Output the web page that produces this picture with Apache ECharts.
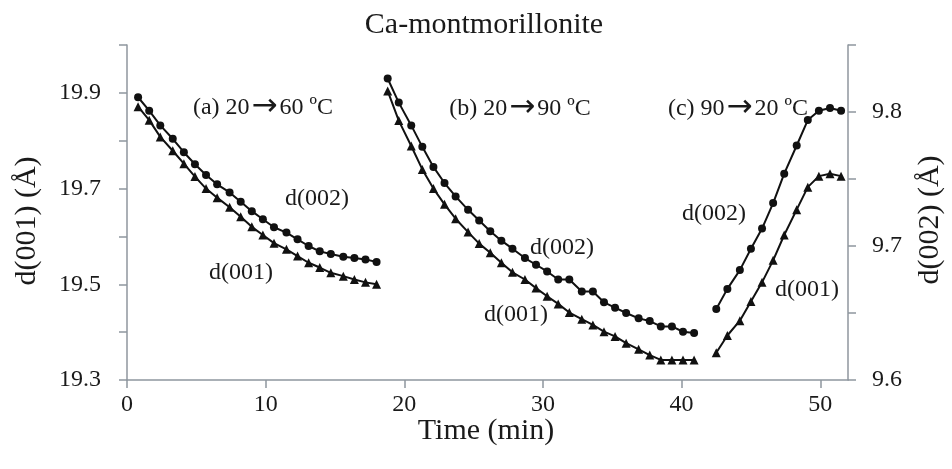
<!DOCTYPE html>
<html>
<head>
<meta charset="utf-8">
<script src="https://cdn.jsdelivr.net/npm/echarts@6/dist/echarts.min.js"></script>
<style>html,body{margin:0;padding:0;background:#fff}#c{width:952px;height:469px}</style>
</head>
<body>
<div id="c"></div>
<script>
// ---- data ----
const timeA = [0.8, 1.6, 2.4, 3.3, 4.1, 4.9, 5.7, 6.5, 7.4, 8.2, 9.0, 9.8, 10.6, 11.5, 12.3, 13.1, 13.9, 14.7, 15.6, 16.4, 17.2, 18.0];
const d001A = [19.871, 19.843, 19.808, 19.779, 19.752, 19.725, 19.700, 19.681, 19.661, 19.641, 19.620, 19.603, 19.586, 19.573, 19.559, 19.545, 19.535, 19.524, 19.517, 19.510, 19.504, 19.500];
const d002A = [9.811, 9.801, 9.790, 9.780, 9.770, 9.761, 9.753, 9.746, 9.740, 9.733, 9.726, 9.720, 9.714, 9.710, 9.705, 9.700, 9.696, 9.694, 9.692, 9.691, 9.690, 9.688];

const timeB = [18.8, 19.6, 20.5, 21.3, 22.1, 22.9, 23.7, 24.6, 25.4, 26.2, 27.0, 27.8, 28.7, 29.5, 30.3, 31.1, 31.9, 32.8, 33.6, 34.4, 35.2, 36.0, 36.9, 37.7, 38.5, 39.3, 40.1, 40.9];
const d001B = [19.904, 19.842, 19.789, 19.740, 19.700, 19.667, 19.637, 19.609, 19.585, 19.566, 19.545, 19.525, 19.510, 19.492, 19.475, 19.459, 19.441, 19.427, 19.415, 19.401, 19.391, 19.377, 19.364, 19.352, 19.342, 19.342, 19.342, 19.342];
const d002B = [9.825, 9.807, 9.790, 9.774, 9.759, 9.747, 9.737, 9.727, 9.719, 9.711, 9.704, 9.698, 9.691, 9.686, 9.681, 9.675, 9.675, 9.666, 9.666, 9.658, 9.654, 9.650, 9.646, 9.644, 9.640, 9.640, 9.636, 9.635];

const timeC = [42.5, 43.3, 44.2, 45.0, 45.8, 46.6, 47.4, 48.3, 49.1, 49.9, 50.7, 51.5];
const d001C = [19.357, 19.393, 19.424, 19.464, 19.504, 19.550, 19.603, 19.656, 19.703, 19.726, 19.731, 19.726];
const d002C = [9.653, 9.668, 9.682, 9.698, 9.713, 9.732, 9.754, 9.775, 9.794, 9.801, 9.803, 9.801];

const xTicks = [0, 10, 20, 30, 40, 50];
const leftTicks = [19.3, 19.4, 19.5, 19.6, 19.7, 19.8, 19.9, 20.0];
const leftLabels = [19.3, 19.5, 19.7, 19.9];
const rightTicks = [9.6, 9.65, 9.7, 9.75, 9.8, 9.85];
const rightLabels = [9.6, 9.7, 9.8];

const titleText = 'Ca-montmorillonite';
const xName = 'Time (min)';
const leftName = 'd(001) (Å)';
const rightName = 'd(002) (Å)';
const segFrom = ['(a) 20', '(b) 20', '(c) 90'];
const segTo = ['60 ºC', '90 ºC', '20 ºC'];

// ---- chart ----
const FONT = '"Liberation Serif", "Times New Roman", serif';
const AX = '#8f969e';
const INK = '#111';
const pair = (t, v) => t.map((x, i) => [x, v[i]]);

function mkSeries(t, v, yIdx, sym, size) {
  return {
    type: 'line', xAxisIndex: 0, yAxisIndex: yIdx, data: pair(t, v),
    symbol: sym, symbolSize: size, showSymbol: true,
    lineStyle: { color: INK, width: 2 }, itemStyle: { color: INK },
    animation: false, silent: true
  };
}
function txt(x, y, s, size, rot) {
  return {
    type: 'text', x: x, y: y, rotation: rot || 0,
    style: { text: s, font: size + 'px ' + FONT, fill: '#1a1a1a', align: 'center', verticalAlign: 'middle' }
  };
}
function segTxt(x, y, i) {
  return {
    type: 'text', x: x, y: y,
    style: {
      text: '{t|' + segFrom[i] + '}{ar|\u2192}{t|' + segTo[i] + '}',
      align: 'center', verticalAlign: 'middle', fill: '#1a1a1a',
      rich: {
        t: { font: '24px ' + FONT, fill: '#1a1a1a' },
        ar: { font: '31px "DejaVu Sans", sans-serif', fill: '#1a1a1a', padding: [0, 2, 2, 2] }
      }
    }
  };
}

const chart = echarts.init(document.getElementById('c'), null, { renderer: 'canvas' });
chart.setOption({
  backgroundColor: '#fff',
  animation: false,
  grid: { left: 127, right: 104, top: 45, bottom: 89, containLabel: false },
  xAxis: {
    type: 'value', min: 0, max: 52,
    axisLine: { show: true, lineStyle: { color: AX, width: 1.5 } },
    axisTick: { show: true, inside: false, length: 8, customValues: xTicks, lineStyle: { color: AX, width: 1.5 } },
    axisLabel: { customValues: xTicks, margin: 13, color: '#1a1a1a', fontFamily: FONT, fontSize: 24 },
    splitLine: { show: false }
  },
  yAxis: [
    {
      type: 'value', min: 19.3, max: 20.0, position: 'left',
      axisLine: { show: true, lineStyle: { color: AX, width: 1.5 } },
      axisTick: { show: true, length: 8, customValues: leftTicks, lineStyle: { color: AX, width: 1.5 } },
      axisLabel: { customValues: leftLabels, margin: 26, color: '#1a1a1a', fontFamily: FONT, fontSize: 24,
                   formatter: v => v.toFixed(1) },
      splitLine: { show: false }
    },
    {
      type: 'value', min: 9.6, max: 9.85, position: 'right',
      axisLine: { show: true, lineStyle: { color: AX, width: 1.5 } },
      axisTick: { show: true, length: 8, customValues: rightTicks, lineStyle: { color: AX, width: 1.5 } },
      axisLabel: { customValues: rightLabels, margin: 24, color: '#1a1a1a', fontFamily: FONT, fontSize: 24,
                   formatter: v => v.toFixed(1) },
      splitLine: { show: false }
    }
  ],
  series: [
    mkSeries(timeA, d001A, 0, 'triangle', 9),
    mkSeries(timeB, d001B, 0, 'triangle', 9),
    mkSeries(timeC, d001C, 0, 'triangle', 9),
    mkSeries(timeA, d002A, 1, 'circle', 8),
    mkSeries(timeB, d002B, 1, 'circle', 8),
    mkSeries(timeC, d002C, 1, 'circle', 8)
  ],
  graphic: [
    txt(484, 25, titleText, 30),
    txt(486, 431, xName, 30),
    txt(27, 221, leftName, 30, Math.PI / 2),
    txt(930, 220, rightName, 30, Math.PI / 2),
    segTxt(263, 108, 0),
    segTxt(520, 109, 1),
    segTxt(738, 109, 2),
    txt(317, 199, 'd(002)', 24),
    txt(241, 273, 'd(001)', 24),
    txt(562, 248, 'd(002)', 24),
    txt(516, 315, 'd(001)', 24),
    txt(714, 214, 'd(002)', 24),
    txt(807, 290, 'd(001)', 24)
  ]
});
</script>
</body>
</html>
